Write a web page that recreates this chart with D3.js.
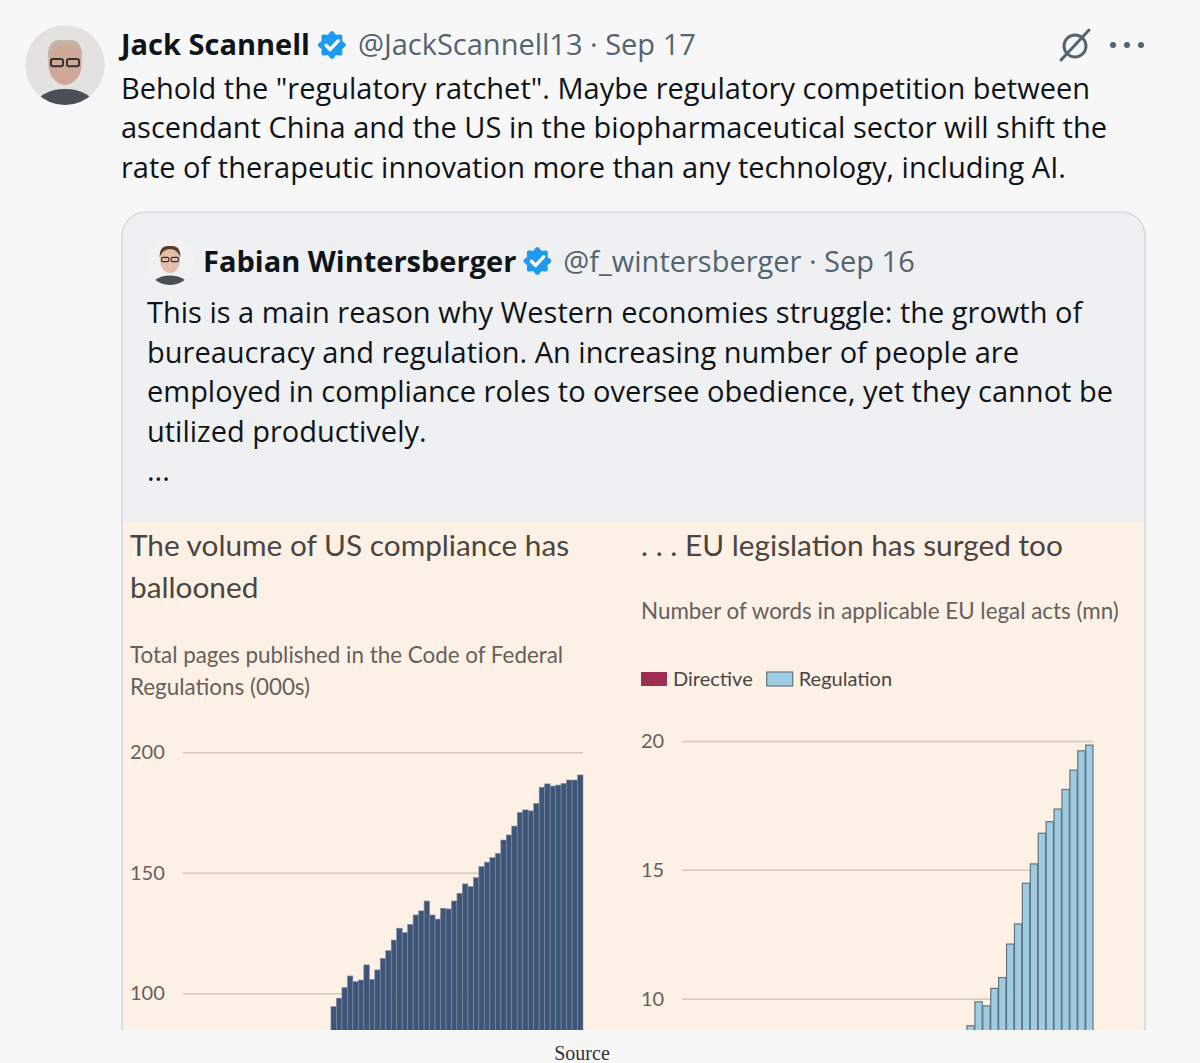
<!DOCTYPE html>
<html>
<head>
<meta charset="utf-8">
<script src="https://cdn.jsdelivr.net/npm/d3@7"></script>
<style>
  body { margin: 0; background: #f7f7f7; }
  svg { display: block; }
</style>
</head>
<body>
<div id="chart"></div>
<script>
// ---- data ----
const usYears = d3.range(1950, 2023);          // categories of the CFR chart
const usShownYears = d3.range(1977, 2023);     // bars that rise into view
const usPages = [
  94.5, 98, 102.4, 107.2, 104.8, 105.5, 111.8, 105.8, 109.7, 114.5,
  117.7, 122.1, 127, 125.2, 128.6, 132.5, 134.2, 138.3, 132.5, 130.8,
  135.3, 135, 138.3, 141.5, 145.4, 144.3, 148, 152.6, 154.4, 156.3,
  158.1, 163.6, 165.7, 169.4, 175, 176.1, 175.7, 178.8, 185.5, 186.9,
  186, 186.4, 187.1, 188.5, 188.5, 190.6
];
const usTicks = [100, 150, 200];

const euYears = d3.range(1971, 2023);
const euShownYears = d3.range(2007, 2023);
const euWords = [
  8.95, 9.88, 9.72, 10.4, 10.82, 12.12, 12.9, 14.48,
  15.23, 16.42, 16.87, 17.36, 18.12, 18.87, 19.62, 19.84
];
const euTicks = [10, 15, 20];
const euSeries = ['Directive', 'Regulation'];

const tweetLines = [
  'Behold the "regulatory ratchet". Maybe regulatory competition between',
  'ascendant China and the US in the biopharmaceutical sector will shift the',
  'rate of therapeutic innovation more than any technology, including AI.'
];
const quoteLines = [
  'This is a main reason why Western economies struggle: the growth of',
  'bureaucracy and regulation. An increasing number of people are',
  'employed in compliance roles to oversee obedience, yet they cannot be',
  'utilized productively.',
  '...'
];

// ---- page ----
const W = 1200, H = 1063;
const svg = d3.select('#chart').append('svg')
  .attr('width', W).attr('height', H);

svg.append('rect').attr('width', W).attr('height', H).attr('fill', '#f7f7f7');

const ui = '"Open Sans", "Noto Sans", sans-serif';
const ft = 'Lato, "Open Sans", sans-serif';
const fs = 29;

function badge(cx, cy, r) {
  const pts = d3.range(0, 64).map(i => {
    const t = i / 64 * 2 * Math.PI;
    return [t, r * (0.9 + 0.1 * Math.cos(8 * t))];
  });
  svg.append('path')
    .attr('transform', `translate(${cx},${cy})`)
    .attr('d', d3.lineRadial().curve(d3.curveCardinalClosed)(pts))
    .attr('fill', '#1d9bf0');
  svg.append('path')
    .attr('d', `M${cx - r * 0.42},${cy + r * 0.02} L${cx - r * 0.12},${cy + r * 0.32} L${cx + r * 0.45},${cy - r * 0.3}`)
    .attr('fill', 'none').attr('stroke', '#fff')
    .attr('stroke-width', r * 0.24)
    .attr('stroke-linecap', 'round').attr('stroke-linejoin', 'round');
}

function avatar(cx, cy, r, skin, hair, bg) {
  const id = 'av' + Math.round(cx);
  svg.append('clipPath').attr('id', id)
    .append('circle').attr('cx', cx).attr('cy', cy).attr('r', r);
  const g = svg.append('g').attr('clip-path', `url(#${id})`);
  g.append('circle').attr('cx', cx).attr('cy', cy).attr('r', r).attr('fill', bg);
  g.append('ellipse').attr('cx', cx).attr('cy', cy + r * 1.05).attr('rx', r * 0.75).attr('ry', r * 0.45).attr('fill', '#4a4f57');
  g.append('ellipse').attr('cx', cx).attr('cy', cy - r * 0.05).attr('rx', r * 0.42).attr('ry', r * 0.55).attr('fill', skin);
  g.append('path')
    .attr('d', `M${cx - r * 0.43},${cy - r * 0.15} Q${cx - r * 0.45},${cy - r * 0.7} ${cx},${cy - r * 0.62} Q${cx + r * 0.45},${cy - r * 0.7} ${cx + r * 0.43},${cy - r * 0.15} Q${cx + r * 0.3},${cy - r * 0.5} ${cx},${cy - r * 0.5} Q${cx - r * 0.3},${cy - r * 0.5} ${cx - r * 0.43},${cy - r * 0.15}Z`)
    .attr('fill', hair);
  [-1, 1].forEach(s => g.append('rect')
    .attr('x', cx + s * r * 0.2 - r * 0.15).attr('y', cy - r * 0.15)
    .attr('width', r * 0.3).attr('height', r * 0.18).attr('rx', r * 0.05)
    .attr('fill', 'none').attr('stroke', '#333').attr('stroke-width', r * 0.05));
}

// ---- main tweet ----
avatar(65, 65, 40, '#cfa898', '#c7b3a6', '#e4e2e0');

const name1 = svg.append('text').attr('x', 121).attr('y', 55)
  .attr('font-family', ui).attr('font-weight', 700).attr('font-size', fs)
  .attr('fill', '#0f1419').text('Jack Scannell');
const n1 = 121 + name1.node().getComputedTextLength();
badge(n1 + 22, 45, 14);
svg.append('text').attr('x', n1 + 48).attr('y', 55)
  .attr('font-family', ui).attr('font-size', fs).attr('fill', '#536471')
  .text('@JackScannell13 · Sep 17');

// grok + more icons
svg.append('circle').attr('cx', 1075).attr('cy', 46).attr('r', 11)
  .attr('fill', 'none').attr('stroke', '#536471').attr('stroke-width', 3);
svg.append('line').attr('x1', 1061).attr('y1', 60).attr('x2', 1089).attr('y2', 30)
  .attr('stroke', '#536471').attr('stroke-width', 3).attr('stroke-linecap', 'round');
svg.selectAll('.dot').data([1113, 1127, 1141]).join('circle')
  .attr('cx', d => d).attr('cy', 45).attr('r', 3).attr('fill', '#536471');

svg.append('g').selectAll('text').data(tweetLines).join('text')
  .attr('x', 121).attr('y', (d, i) => 99 + i * 39.4)
  .attr('font-family', ui).attr('font-size', fs).attr('fill', '#0f1419')
  .text(d => d);

// ---- quoted tweet card ----
const card = d3.path();
card.moveTo(122, 1030);
card.lineTo(122, 236);
card.arcTo(122, 212, 146, 212, 24);
card.lineTo(1121, 212);
card.arcTo(1145, 212, 1145, 236, 24);
card.lineTo(1145, 1030);
svg.append('path').attr('d', card.toString())
  .attr('fill', '#eff0f1').attr('stroke', '#d6d9dc').attr('stroke-width', 1.5);

avatar(170, 261, 24, '#e2bfa9', '#5a3b2a', '#f2f2f2');
const name2 = svg.append('text').attr('x', 203).attr('y', 272)
  .attr('font-family', ui).attr('font-weight', 700).attr('font-size', fs)
  .attr('fill', '#0f1419').text('Fabian Wintersberger');
const n2 = 203 + name2.node().getComputedTextLength();
badge(n2 + 21, 261, 14);
svg.append('text').attr('x', n2 + 47).attr('y', 272)
  .attr('font-family', ui).attr('font-size', fs).attr('fill', '#536471')
  .text('@f_wintersberger · Sep 16');

svg.append('g').selectAll('text').data(quoteLines).join('text')
  .attr('x', 147).attr('y', (d, i) => 323 + i * 39.6)
  .attr('font-family', ui).attr('font-size', fs).attr('fill', '#0f1419')
  .text(d => d);

// ---- FT chart image ----
svg.append('clipPath').attr('id', 'panel')
  .append('rect').attr('x', 123).attr('y', 522).attr('width', 1021).attr('height', 508);
const panel = svg.append('g').attr('clip-path', 'url(#panel)');
panel.append('rect').attr('x', 123).attr('y', 522).attr('width', 1021).attr('height', 508)
  .attr('fill', '#fdf1e6');

function titleBlock(x, lines, y0, step, size, color) {
  panel.append('g').selectAll('text').data(lines).join('text')
    .attr('x', x).attr('y', (d, i) => y0 + i * step)
    .attr('font-family', ft).attr('font-size', size).attr('fill', color)
    .text(d => d);
}

titleBlock(130, ['The volume of US compliance has', 'ballooned'], 556, 42, 29.8, '#4a4542');
titleBlock(130, ['Total pages published in the Code of Federal', 'Regulations (000s)'], 663, 32, 22.4, '#66605c');
titleBlock(641, ['. . . EU legislation has surged too'], 556, 42, 29.8, '#4a4542');
titleBlock(641, ['Number of words in applicable EU legal acts (mn)'], 619, 32, 22.4, '#66605c');

// legend
const legColor = { Directive: '#9e2f52', Regulation: '#9dcde4' };
const leg = panel.append('g').attr('font-family', ft).attr('font-size', 20).attr('fill', '#4a4542');
let lx = 641;
euSeries.forEach(s => {
  leg.append('rect').attr('x', lx).attr('y', 672).attr('width', 26).attr('height', 14)
    .attr('fill', legColor[s]).attr('stroke', s === 'Regulation' ? '#66737c' : 'none').attr('stroke-width', 1.2);
  const t = leg.append('text').attr('x', lx + 32).attr('y', 686).text(s);
  lx += 32 + t.node().getComputedTextLength() + 14;
});

// shared axis styling
function grid(g, labelX) {
  g.select('.domain').remove();
  g.selectAll('.tick line').attr('stroke', '#d4c9be').attr('stroke-width', 1.5);
  g.selectAll('.tick text')
    .attr('x', labelX).attr('text-anchor', 'start')
    .attr('font-family', ft).attr('font-size', 20).attr('fill', '#66605c');
}

// US chart
const xUS = d3.scaleBand().domain(usYears).range([183, 583]);
const yUS = d3.scaleLinear().domain([0, 200]).range([1234.3, 752.3]);
panel.append('g').attr('transform', 'translate(583,0)')
  .call(d3.axisLeft(yUS).tickValues(usTicks).tickSize(400).tickPadding(0))
  .call(g => grid(g, 130 - 583));
panel.append('g').selectAll('rect')
  .data(usShownYears.map((yr, i) => ({ yr, v: usPages[i] })))
  .join('rect')
  .attr('x', d => xUS(d.yr)).attr('width', xUS.bandwidth())
  .attr('y', d => yUS(d.v)).attr('height', d => yUS(0) - yUS(d.v))
  .attr('fill', '#3f5578').attr('stroke', '#7f8ea5').attr('stroke-width', 0.6);

// EU chart
const xEU = d3.scaleBand().domain(euYears).range([682, 1093]).paddingInner(0.08);
const yEU = d3.scaleLinear().domain([0, 20]).range([1256.4, 741]);
panel.append('g').attr('transform', 'translate(1093,0)')
  .call(d3.axisLeft(yEU).tickValues(euTicks).tickSize(411).tickPadding(0))
  .call(g => grid(g, 641 - 1093));
panel.append('g').selectAll('rect')
  .data(euShownYears.map((yr, i) => ({ yr, v: euWords[i] })))
  .join('rect')
  .attr('x', d => xEU(d.yr)).attr('width', xEU.bandwidth())
  .attr('y', d => yEU(d.v)).attr('height', d => yEU(0) - yEU(d.v))
  .attr('fill', legColor.Regulation).attr('stroke', '#66737c').attr('stroke-width', 1.2);

// caption below the crop
svg.append('text').attr('x', 582).attr('y', 1060).attr('text-anchor', 'middle')
  .attr('font-family', '"Liberation Serif", "DejaVu Serif", serif').attr('font-size', 20)
  .attr('fill', '#333').text('Source');
</script>
</body>
</html>
